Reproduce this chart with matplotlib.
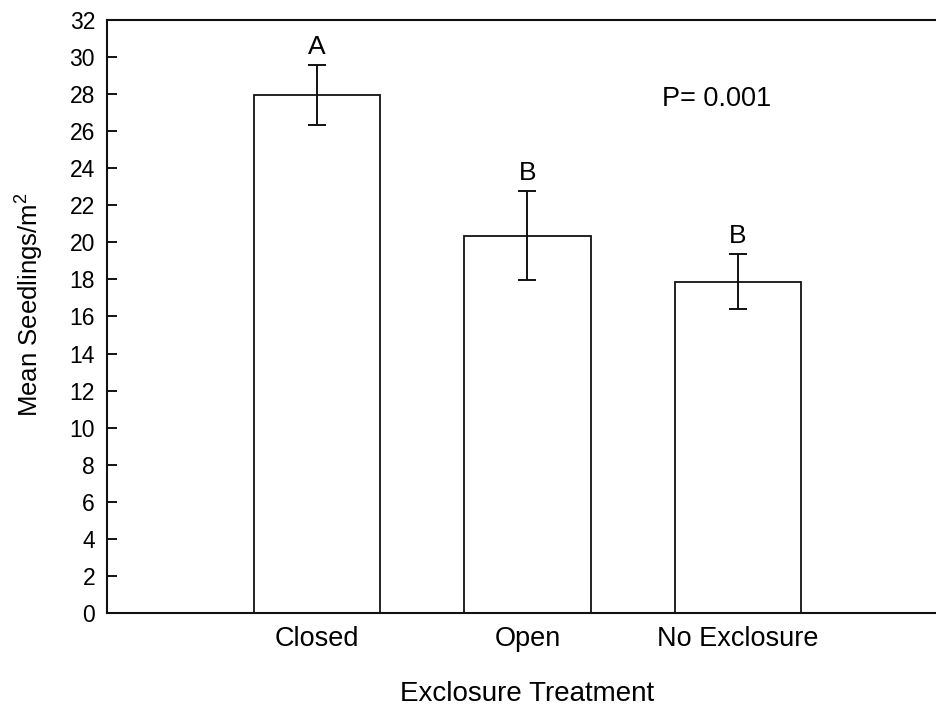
import matplotlib
matplotlib.use('Agg')
from matplotlib import pyplot as plt

plt.rcParams['font.family'] = ['Liberation Sans', 'DejaVu Sans']
plt.rcParams['mathtext.default'] = 'regular'

treatments = ['Closed', 'Open', 'No Exclosure']
means = [27.95, 20.35, 17.88]
errors = [1.6, 2.4, 1.5]
groups = ['A', 'B', 'B']
p_label = 'P= 0.001'
y_ticks = list(range(0, 33, 2))

fig = plt.figure(figsize=(9.36, 7.07), dpi=100, facecolor='white')
ax = fig.add_axes([0.1143, 0.1330, 0.8985, 0.8387])

x = list(range(len(treatments)))
ax.bar(x, means, width=0.6, color='white', edgecolor='#111111', linewidth=1.3, zorder=2)
ax.errorbar(x, means, yerr=errors, fmt='none', ecolor='#111111',
            elinewidth=1.4, capsize=6.5, capthick=1.4, zorder=3)

for xi, m, e, g in zip(x, means, errors, groups):
    ax.annotate(g, (xi, m + e), xytext=(0, 4.5), textcoords='offset points',
                ha='center', va='bottom', fontsize=19)

ax.text(0.725, 0.866, p_label, transform=ax.transAxes, ha='center', va='center', fontsize=19.5)

ax.set_xlim(-1, 3)
ax.set_ylim(0, 32)
ax.set_yticks(y_ticks)
ax.set_xticks(x)
ax.set_xticklabels(treatments, fontsize=19.5)
ax.tick_params(axis='x', length=0, pad=9.5)
ax.tick_params(axis='y', direction='in', length=7, width=1.3, labelsize=16.5, pad=8.6)

for side in ['left', 'top', 'bottom']:
    ax.spines[side].set_linewidth(1.5)
    ax.spines[side].set_color('#111111')
ax.spines['right'].set_visible(False)

ax.set_xlabel('Exclosure Treatment', fontsize=20, labelpad=21)
ax.set_ylabel('Mean Seedlings/m$^2$', fontsize=18.5)
ax.yaxis.set_label_coords(-0.0725, 0.52)

fig.savefig('out.png', dpi=100, facecolor='white')
